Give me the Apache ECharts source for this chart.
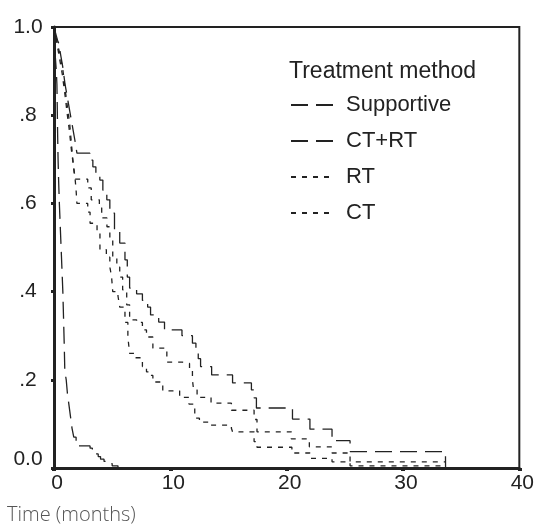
<!DOCTYPE html>
<html>
<head>
<meta charset="utf-8">
<script src="https://cdn.jsdelivr.net/npm/echarts@6/dist/echarts.min.js"></script>
<style>html,body{margin:0;padding:0;background:#fff}#c{width:537px;height:532px}</style>
</head>
<body>
<div id="c"></div>
<script>
// Series names (legend order)
const seriesNames = ['Supportive', 'CT+RT', 'RT', 'CT'];
const legendTitle = 'Treatment method';
const xTitle = 'Time (months)';
const xTicks = [0, 10, 20, 30, 40];
const yTicks = [0, 0.2, 0.4, 0.6, 0.8, 1.0];

// Kaplan–Meier steps: [time (months), survival after event]
const supportive = [[0,1],[0.06,0.96],[0.12,0.93],[0.2,0.9],[0.25,0.87],[0.28,0.82],[0.31,0.76],[0.35,0.7],[0.4,0.65],[0.46,0.6],[0.52,0.56],[0.58,0.52],[0.64,0.48],[0.7,0.44],[0.76,0.4],[0.82,0.34],[0.88,0.28],[0.93,0.22],[1.05,0.2],[1.15,0.17],[1.25,0.15],[1.35,0.13],[1.45,0.11],[1.55,0.09],[1.7,0.07],[1.9,0.05],[3.1,0.045],[3.3,0.04],[3.5,0.032],[3.8,0.026],[4.0,0.02],[4.3,0.015],[4.6,0.01],[5.0,0.005],[5.5,0],[8,0]];
const ctrt = [[0,1],[0.1,0.99],[0.2,0.98],[0.3,0.97],[0.45,0.96],[0.55,0.94],[0.65,0.925],[0.75,0.91],[0.85,0.89],[0.95,0.87],[1.05,0.855],[1.15,0.84],[1.25,0.825],[1.35,0.81],[1.45,0.795],[1.55,0.78],[1.65,0.765],[1.75,0.75],[1.85,0.735],[1.97,0.714],[3.08,0.698],[3.34,0.683],[3.6,0.668],[3.94,0.653],[4.2,0.63],[4.54,0.608],[4.8,0.578],[5.2,0.54],[5.65,0.51],[6.1,0.472],[6.3,0.433],[6.5,0.408],[7.1,0.395],[7.6,0.38],[8.05,0.365],[8.3,0.347],[9.0,0.331],[9.5,0.313],[11.0,0.3],[11.9,0.283],[12.2,0.265],[12.4,0.248],[12.6,0.23],[13.55,0.211],[15.35,0.193],[16.97,0.177],[17.2,0.159],[17.4,0.136],[20.5,0.111],[22.0,0.088],[23.9,0.062],[25.45,0.037],[33.65,0.037],[33.66,0]];
const rt = [[0,1],[0.1,0.99],[0.2,0.975],[0.3,0.96],[0.45,0.945],[0.6,0.925],[0.75,0.905],[0.85,0.885],[0.95,0.86],[1.05,0.84],[1.15,0.82],[1.25,0.8],[1.35,0.78],[1.45,0.75],[1.55,0.72],[1.65,0.69],[1.8,0.655],[2.9,0.635],[3.2,0.608],[3.9,0.59],[4.1,0.567],[4.55,0.547],[4.8,0.517],[5.05,0.478],[5.4,0.456],[5.65,0.433],[5.9,0.404],[6.25,0.37],[6.5,0.336],[7.1,0.33],[7.6,0.313],[7.95,0.297],[8.5,0.272],[9.7,0.24],[11.05,0.237],[11.65,0.222],[11.9,0.2],[12.0,0.177],[12.3,0.16],[13.5,0.147],[15.25,0.131],[17.2,0.11],[17.45,0.082],[20.4,0.066],[21.95,0.048],[23.9,0.034],[25.45,0.014],[33.65,0.014]];
const ct = [[0,1],[0.1,0.985],[0.2,0.97],[0.3,0.955],[0.4,0.94],[0.5,0.925],[0.6,0.91],[0.7,0.895],[0.8,0.875],[0.9,0.855],[1.0,0.835],[1.1,0.81],[1.2,0.79],[1.3,0.77],[1.4,0.745],[1.5,0.72],[1.6,0.7],[1.7,0.68],[1.8,0.66],[1.9,0.63],[1.97,0.6],[2.9,0.58],[3.1,0.555],[3.7,0.533],[3.95,0.495],[4.5,0.478],[4.8,0.456],[4.95,0.433],[5.05,0.4],[5.5,0.39],[5.65,0.365],[6.1,0.33],[6.35,0.297],[6.5,0.26],[6.95,0.25],[7.6,0.23],[7.95,0.218],[8.2,0.21],[8.5,0.195],[9.35,0.175],[10.8,0.16],[11.6,0.145],[12.1,0.113],[12.5,0.104],[13.5,0.097],[15.25,0.09],[15.35,0.082],[17.2,0.06],[17.45,0.047],[20.45,0.034],[22.0,0.022],[23.9,0.014],[25.45,0.005],[33.65,0.005]];

const seriesData = [supportive, ctrt, rt, ct];
const dashes = [[17, 8], [17, 8], [5, 6], [5, 6]];

const chart = echarts.init(document.getElementById('c'), null, {renderer: 'canvas'});
const ink = '#222';
const font = 'Liberation Sans';

chart.setOption({
  animation: false,
  backgroundColor: '#fff',
  grid: {left: 54, right: 16.5, top: 27, bottom: 64, show: true, borderColor: ink, borderWidth: 2, backgroundColor: 'transparent'},
  title: {text: legendTitle, left: 289, top: 60, padding: 0, textStyle: {fontFamily: font, fontSize: 23, fontWeight: 'normal', color: ink}},
  legend: {
    orient: 'vertical', left: 290, top: 94, padding: 0, itemWidth: 42, itemHeight: 20, itemGap: 14,
    data: seriesNames,
    itemStyle: {color: 'transparent', borderColor: 'transparent', borderWidth: 0},
    textStyle: {fontFamily: font, fontSize: 22, color: ink, padding: [0, 0, 0, 8]}
  },
  xAxis: {
    type: 'value', min: xTicks[0], max: xTicks[xTicks.length - 1], interval: 10,
    axisLine: {show: true, onZero: false, lineStyle: {color: ink, width: 3}},
    axisTick: {show: true, inside: false, length: 3, lineStyle: {color: ink, width: 4}},
    axisLabel: {fontFamily: font, fontSize: 21, color: ink, margin: 5, padding: [0, 0, 0, 6]},
    splitLine: {show: false}
  },
  yAxis: {
    type: 'value', min: yTicks[0], max: yTicks[yTicks.length - 1], interval: 0.2,
    axisLine: {show: true, onZero: false, lineStyle: {color: ink, width: 3}},
    axisTick: {show: true, inside: false, length: 3, lineStyle: {color: ink, width: 3}},
    axisLabel: {
      fontFamily: font, fontSize: 21, color: ink, margin: 26, align: 'center',
      formatter: function (v) {
        if (Math.abs(v) < 1e-9) return '{z|0.0}';
        if (Math.abs(v - 1) < 1e-9) return '1.0';
        return '.' + Math.round(v * 10);
      },
      rich: {z: {fontFamily: font, fontSize: 21, color: ink, padding: [0, 0, 18, 0]}}
    },
    splitLine: {show: false}
  },
  series: seriesNames.map(function (n, i) {
    return {
      name: n, type: 'line', step: 'end', data: seriesData[i], symbol: 'none', showSymbol: false,
      lineStyle: {color: ink, width: 1.3, type: dashes[i]},
      itemStyle: {color: ink}
    };
  }),
  graphic: [{
    type: 'text', left: 7, top: 505,
    style: {text: xTitle, fill: '#555', font: '300 20px "Open Sans"'}
  }]
});
</script>
</body>
</html>
